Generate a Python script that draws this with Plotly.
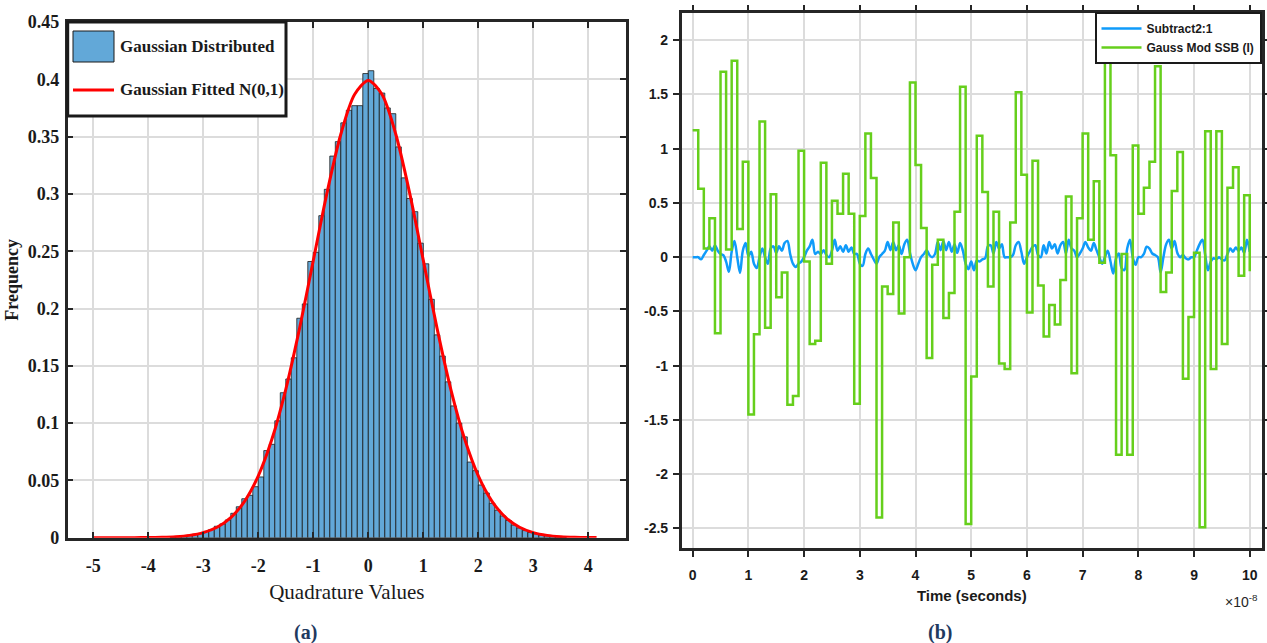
import numpy as np
import plotly.graph_objects as go

# ---------------- Panel (a): histogram of quadrature values ----------------
hist_bin_width = 0.1
hist_centers = np.round(np.arange(-3.55, 3.56, hist_bin_width), 2)
hist_heights = [
    0.0005, 0.0010, 0.0013, 0.0021, 0.0030, 0.0036, 0.0055, 0.0072, 0.0100, 0.0120,
    0.0155, 0.0213, 0.0270, 0.0340, 0.0370, 0.0445, 0.0530, 0.0760, 0.0815, 0.1020,
    0.1265, 0.1385, 0.1570, 0.1915, 0.2040, 0.2410, 0.2490, 0.2810, 0.3040, 0.3330,
    0.3456, 0.3620, 0.3730, 0.3770, 0.3770, 0.4050, 0.4075, 0.3920, 0.3880, 0.3750,
    0.3700, 0.3410, 0.3140, 0.2960, 0.2845, 0.2570, 0.2390, 0.2080, 0.1770, 0.1585,
    0.1360, 0.1150, 0.1000, 0.0880, 0.0660, 0.0585, 0.0460, 0.0390, 0.0300, 0.0240,
    0.0190, 0.0150, 0.0110, 0.0085, 0.0062, 0.0045, 0.0033, 0.0024, 0.0017, 0.0012,
    0.0008, 0.0005,
]
fit_x = [-5.0, -4.75, -4.5, -4.25, -4.0, -3.75, -3.5, -3.25, -3.0, -2.75, -2.5, -2.25,
         -2.0, -1.75, -1.5, -1.25, -1.0, -0.75, -0.5, -0.25, 0.0, 0.25, 0.5, 0.75,
         1.0, 1.25, 1.5, 1.75, 2.0, 2.25, 2.5, 2.75, 3.0, 3.25, 3.5, 3.75, 4.0, 4.15]
fit_y = [0.0, 0.0, 0.00002, 0.00005, 0.00013, 0.00035, 0.00087, 0.00203, 0.00443,
         0.00909, 0.01753, 0.03174, 0.05399, 0.08628, 0.12952, 0.18265, 0.24197,
         0.30114, 0.35207, 0.38667, 0.39894, 0.38667, 0.35207, 0.30114, 0.24197,
         0.18265, 0.12952, 0.08628, 0.05399, 0.03174, 0.01753, 0.00909, 0.00443,
         0.00203, 0.00087, 0.00035, 0.00013, 0.00007]
a_xtick_vals = [-5, -4, -3, -2, -1, 0, 1, 2, 3, 4]
a_xtick_text = ["-5", "-4", "-3", "-2", "-1", "0", "1", "2", "3", "4"]
a_ytick_vals = [0, 0.05, 0.1, 0.15, 0.2, 0.25, 0.3, 0.35, 0.4, 0.45]
a_ytick_text = ["0", "0.05", "0.1", "0.15", "0.2", "0.25", "0.3", "0.35", "0.4", "0.45"]

# ---------------- Panel (b): scope traces (time in units of 1e-8 s) ----------------
ssb_step = 0.1     # sample time of the Gauss Mod SSB (I) signal, 1e-9 s
ssb_values = [
    1.17, 0.63, 0.08, 0.36, -0.70, 1.71, 0.07, 1.81, 0.26, 0.88,
    -1.45, -0.71, 1.25, -0.65, 0.58, -0.37, -0.14, -1.36, -1.28, 0.98,
    -0.04, -0.80, -0.77, 0.87, -0.06, 0.52, 0.40, 0.77, 0.40, -1.35,
    0.38, 1.14, 0.73, -2.40, -0.27, -0.34, 0.32, -0.52, 0.00, 1.61,
    0.85, 0.27, -0.93, -0.07, 0.16, -0.56, -0.33, 0.42, 1.57, -2.46,
    -1.10, 1.12, 0.60, -0.27, 0.42, -0.98, -1.03, 0.32, 1.52, 0.76,
    -0.51, 0.89, -0.26, -0.73, -0.44, -0.62, -0.21, 0.56, -1.07, 0.36,
    1.14, 0.16, 0.70, -0.05, 2.00, 0.94, -1.82, 0.03, -1.82, 1.03,
    0.40, 0.64, 0.88, 1.76, -0.32, -0.14, 0.61, 0.97, -1.12, -0.55,
    0.04, -2.49, 1.16, -1.03, 1.16, -0.80, 0.64, 0.83, -0.17, 0.57,
    -0.13,
]
sub_step = 0.05    # sample time of the Subtract2:1 signal, 0.5e-9 s
sub_values = [
    0.0, 0.0, 0.0, -0.02, 0.02, 0.06, 0.10, 0.06, 0.11, 0.06,
    0.03, 0.02, -0.04, -0.135, 0.05, 0.15, 0.0, -0.145, 0.06, 0.13,
    0.01, 0.05, -0.06, -0.10, 0.0, 0.08, 0.0, -0.06, 0.08, 0.10,
    0.04, 0.10, 0.06, 0.13, 0.15, 0.03, -0.06, -0.09, -0.06, -0.04,
    0.0, 0.06, 0.10, 0.16, 0.03, 0.05, 0.03, 0.065, 0.02, 0.0,
    0.06, 0.16, 0.06, 0.10, 0.05, 0.11, 0.05, 0.09, 0.03, 0.03,
    -0.06, -0.08, 0.03, 0.08, 0.03, -0.02, -0.06, 0.0, 0.03, 0.06,
    0.14, 0.065, 0.14, 0.065, 0.11, 0.03, 0.12, 0.16, 0.04, -0.06,
    -0.12, -0.06, 0.0, 0.03, 0.065, 0.02, 0.0, 0.03, 0.14, 0.065,
    0.15, 0.065, 0.14, 0.05, 0.12, 0.04, 0.13, 0.06, -0.06, -0.11,
    -0.04, -0.12, -0.03, -0.04, -0.02, -0.01, 0.10, 0.11, 0.034, 0.14,
    0.08, 0.12, 0.0, 0.0, 0.0, 0.02, 0.11, 0.14, 0.05, -0.06,
    0.0, 0.05, 0.096, 0.11, 0.02, 0.0, 0.11, 0.034, 0.14, 0.08,
    0.12, 0.034, 0.11, 0.14, 0.034, 0.16, 0.08, 0.06, 0.0, 0.034,
    0.08, 0.14, 0.09, 0.06, 0.13, 0.065, 0.0, -0.06, 0.0, 0.06,
    -0.04, -0.15, -0.01, 0.034, -0.10, -0.12, 0.08, 0.16, 0.0, -0.07,
    0.0, 0.0, 0.03, 0.096, 0.08, 0.034, 0.02, 0.0, -0.14, 0.0,
    0.12, 0.16, 0.08, 0.15, 0.04, 0.0, 0.02, -0.01, -0.02, 0.0,
    0.0, 0.06, 0.12, 0.16, 0.02, -0.12, -0.04, -0.01, -0.02, 0.0,
    -0.02, -0.03, 0.03, 0.08, 0.05, 0.09, 0.06, 0.09, 0.04, 0.16,
    0.05,
]
b_xtick_vals = [0, 1, 2, 3, 4, 5, 6, 7, 8, 9, 10]
b_xtick_text = ["0", "1", "2", "3", "4", "5", "6", "7", "8", "9", "10"]
b_ytick_vals = [-2.5, -2, -1.5, -1, -0.5, 0, 0.5, 1, 1.5, 2]
b_ytick_text = ["-2.5", "-2", "-1.5", "-1", "-0.5", "0", "0.5", "1", "1.5", "2"]

ssb_t = np.arange(len(ssb_values)) * ssb_step
sub_t = np.arange(len(sub_values)) * sub_step

W, H = 1267, 643
def px(x):
    return x / W
def py(y):
    return 1 - y / H

SERIF = "Liberation Serif, Times New Roman, serif"
SANS = "Liberation Sans, Arial, sans-serif"
AX = "#262626"
GRID = "#dcdcdc"
HIST_BLUE = "#62A8D8"

fig = go.Figure()

fig.add_trace(go.Bar(
    x=hist_centers, y=hist_heights, width=hist_bin_width,
    marker=dict(color=HIST_BLUE, line=dict(color="#1a1a1a", width=0.8)),
    name="Gaussian Distributed", showlegend=False, xaxis="x", yaxis="y",
))
fig.add_trace(go.Scatter(
    x=fit_x, y=fit_y, mode="lines",
    line=dict(color="#FF0000", width=3, shape="spline", smoothing=0.8),
    name="Gaussian Fitted N(0,1)", showlegend=False, xaxis="x", yaxis="y",
))
fig.add_trace(go.Scatter(
    x=sub_t, y=sub_values, mode="lines",
    line=dict(color="#0F9BFA", width=2.5, shape="spline", smoothing=1),
    name="Subtract2:1", xaxis="x2", yaxis="y2",
))
fig.add_trace(go.Scatter(
    x=ssb_t, y=ssb_values, mode="lines",
    line=dict(color="#66CF1C", width=2.5, shape="hv"),
    name="Gauss Mod SSB (I)", xaxis="x2", yaxis="y2",
))

common_a = dict(
    showline=True, linecolor=AX, linewidth=2.5, mirror="ticks",
    ticks="inside", ticklen=6, tickwidth=2, tickcolor=AX,
    showgrid=True, gridcolor=GRID, gridwidth=2, zeroline=False, automargin=False,
    tickfont=dict(family=SERIF, size=18, color="#1a1a1a", weight="bold"),
)
common_b = dict(
    showline=True, linecolor=AX, linewidth=2.5, mirror="ticks",
    ticks="outside", ticklen=6, tickwidth=2, tickcolor=AX,
    showgrid=True, gridcolor=GRID, gridwidth=2, zeroline=False, automargin=False,
    tickfont=dict(family=SANS, size=14, color="#1a1a1a", weight="bold"),
)

fig.update_layout(
    width=W, height=H,
    margin=dict(l=0, r=0, t=0, b=0, autoexpand=False),
    paper_bgcolor="white", plot_bgcolor="white",
    xaxis=dict(
        domain=[px(67.7), px(626)], range=[-5.465, 4.685], anchor="y",
        tickmode="array", tickvals=a_xtick_vals, ticktext=a_xtick_text,
        ticklabelstandoff=10,
        title=dict(text="Quadrature Values", standoff=10,
                   font=dict(family=SERIF, size=21, color="#1a1a1a")),
        **common_a,
    ),
    yaxis=dict(
        domain=[py(537.7), py(22)], range=[0, 0.45], anchor="x",
        tickmode="array", tickvals=a_ytick_vals, ticktext=a_ytick_text,
        ticklabelstandoff=2,
        title=dict(text="Frequency", standoff=5,
                   font=dict(family=SERIF, size=18, color="#1a1a1a", weight="bold")),
        **common_a,
    ),
    xaxis2=dict(
        domain=[px(681.7), px(1262)], range=[-0.197, 10.22], anchor="y2",
        tickmode="array", tickvals=b_xtick_vals, ticktext=b_xtick_text,
        ticklabelstandoff=6,
        title=dict(text="Time (seconds)", standoff=9,
                   font=dict(family=SANS, size=15, color="#1a1a1a", weight="bold")),
        **common_b,
    ),
    yaxis2=dict(
        domain=[py(548.3), py(13.3)], range=[-2.683, 2.248], anchor="x2",
        tickmode="array", tickvals=b_ytick_vals, ticktext=b_ytick_text,
        ticklabelstandoff=2,
        **common_b,
    ),
    showlegend=True,
    legend=dict(
        x=px(1261.5), y=py(12), xanchor="right", yanchor="top",
        bgcolor="white", bordercolor="#1a1a1a", borderwidth=2,
        font=dict(family=SANS, size=12, color="#1a1a1a", weight="bold"),
        itemwidth=40, tracegroupgap=0,
    ),
)

# Legend box of panel (a)
fig.add_shape(type="rect", xref="paper", yref="paper",
              x0=px(67.7), x1=px(286), y0=py(116), y1=py(22),
              line=dict(color="#1a1a1a", width=3), fillcolor="white", layer="above")
fig.add_shape(type="rect", xref="paper", yref="paper",
              x0=px(73), x1=px(114), y0=py(62), y1=py(31),
              line=dict(color="#1a1a1a", width=1), fillcolor=HIST_BLUE, layer="above")
fig.add_shape(type="line", xref="paper", yref="paper",
              x0=px(73), x1=px(114), y0=py(90), y1=py(90),
              line=dict(color="#FF0000", width=3), layer="above")
fig.add_annotation(xref="paper", yref="paper", x=px(118), y=py(47),
                   xanchor="left", yanchor="middle", showarrow=False,
                   text="Gaussian Distributed",
                   font=dict(family=SERIF, size=17, color="#1a1a1a", weight="bold"))
fig.add_annotation(xref="paper", yref="paper", x=px(118), y=py(90),
                   xanchor="left", yanchor="middle", showarrow=False,
                   text="Gaussian Fitted N(0,1)",
                   font=dict(family=SERIF, size=17, color="#1a1a1a", weight="bold"))

# Exponent label of panel (b) time axis
fig.add_annotation(xref="paper", yref="paper", x=px(1241), y=py(601),
                   xanchor="center", yanchor="middle", showarrow=False,
                   text="×10<sup>-8</sup>",
                   font=dict(family=SANS, size=14, color="#262626"))

# Panel captions
fig.add_annotation(xref="paper", yref="paper", x=px(305), y=py(632),
                   xanchor="center", yanchor="middle", showarrow=False,
                   text="(a)", font=dict(family=SERIF, size=20, color="#1F3A5F", weight="bold"))
fig.add_annotation(xref="paper", yref="paper", x=px(940), y=py(632),
                   xanchor="center", yanchor="middle", showarrow=False,
                   text="(b)", font=dict(family=SERIF, size=20, color="#1F3A5F", weight="bold"))

fig.write_html(
    "out.html",
    config={"displayModeBar": False},
    post_script="document.body.style.margin='0px';document.body.style.overflow='hidden';",
)
